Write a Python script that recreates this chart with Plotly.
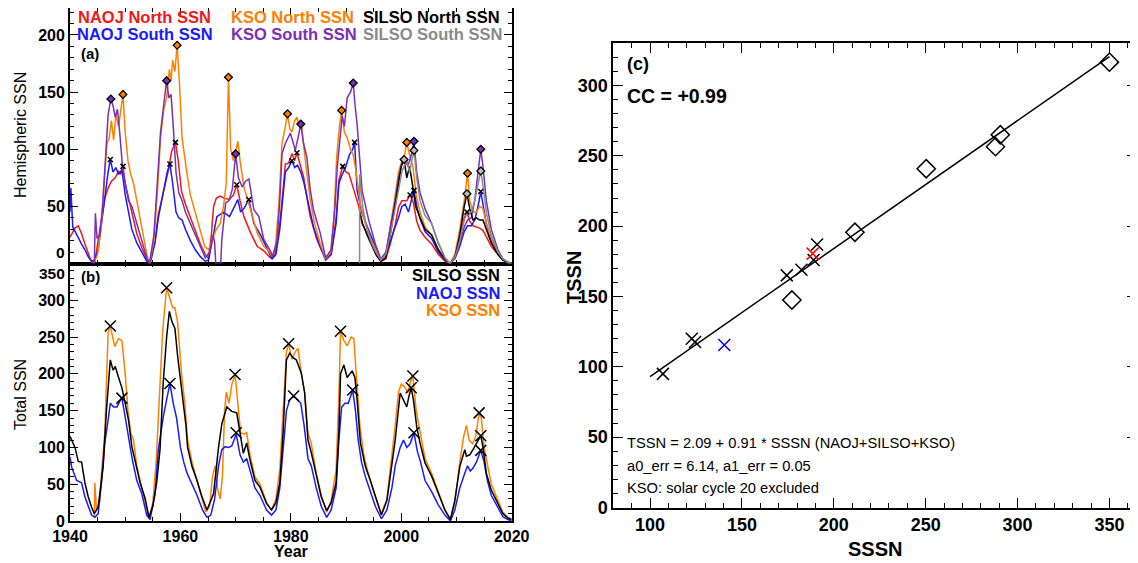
import plotly.graph_objects as go

# ---------------- Panel (a): hemispheric SSN ----------------
naoj_n_x = [1940.0,1940.9,1941.5,1942.1,1942.7,1943.3,1943.9,1944.5,1945.1,1945.7,1946.3,1946.9,1947.5,1948.2,1948.8,1949.2,1949.6,1950.0,1950.6,1951.2,1952.1,1953.0,1953.9,1954.5,1955.4,1956.0,1956.9,1957.8,1958.4,1959.1,1959.6,1960.2,1960.9,1961.8,1962.7,1963.6,1964.5,1965.1,1965.6,1966.0,1966.5,1967.2,1968.0,1968.9,1969.6,1970.2,1970.8,1971.5,1972.7,1973.9,1975.1,1976.3,1977.1,1978.0,1978.6,1979.0,1979.6,1980.2,1980.7,1981.1,1981.6,1982.3,1982.9,1983.5,1984.7,1985.5,1986.4,1987.3,1988.2,1988.7,1989.4,1990.0,1990.5,1991.4,1992.3,1992.9,1993.5,1994.7,1995.4,1996.3,1997.2,1998.0,1998.9,1999.5,2000.1,2001.0,2001.6,2002.2,2002.8,2003.4,2004.3,2005.5,2006.7,2007.9,2008.8,2009.7,2010.6,2011.4,2011.9,2012.4,2013.0,2013.6,2014.2,2014.8,2015.4,2016.3,2017.5,2018.4,2019.3,2020.0]
naoj_n_y = [23,31,33,26,17,8,1,2,20,40,57,66,72,75,81,78,85,70,57,43,26,14,4,1,20,43,63,81,98,106,90,63,52,40,29,17,8,4,25,50,57,59,57,56,60,69,55,41,27,15,11,5,7,35,65,87,88,96,90,97,88,76,58,41,21,12,4,8,40,73,85,80,79,64,50,35,29,18,8,2,4,17,34,49,55,55,60,53,37,29,23,17,8,2,0,5,23,40,45,37,33,32,31,29,23,15,8,4,0,0]

naoj_s_x = [1940.0,1940.15,1940.5,1941.2,1942.1,1942.7,1943.3,1943.9,1944.5,1945.1,1945.7,1946.3,1946.9,1947.3,1947.8,1948.3,1948.8,1949.4,1950.0,1950.6,1951.2,1952.1,1953.0,1953.9,1954.5,1955.4,1956.0,1956.9,1957.6,1958.1,1958.6,1959.2,1959.7,1960.3,1960.9,1961.8,1962.7,1963.6,1964.5,1965.1,1966.0,1966.6,1967.8,1968.9,1969.6,1970.4,1970.9,1971.5,1972.4,1973.3,1974.5,1976.0,1976.6,1977.3,1978.0,1978.6,1979.0,1979.6,1980.2,1980.7,1981.2,1981.8,1982.4,1983.2,1984.1,1985.3,1986.3,1987.3,1988.2,1988.7,1989.3,1989.9,1990.6,1991.2,1991.55,1992.0,1992.9,1994.1,1995.3,1996.3,1997.2,1998.0,1998.9,1999.5,2000.1,2000.7,2001.3,2001.8,2002.3,2002.9,2003.5,2004.3,2005.5,2006.7,2007.9,2008.8,2009.7,2010.6,2011.4,2012.0,2012.7,2013.3,2013.9,2014.4,2014.9,2015.4,2016.3,2017.5,2018.4,2019.3,2020.0]
naoj_s_y = [45,66,32,25,17,12,6,2,3,12,35,60,80,91,80,84,78,82,60,45,30,18,10,2,0,18,40,62,80,87,70,45,40,38,30,20,12,6,2,3,25,41,45,41,48,56,45,48,56,35,25,10,4,8,30,60,80,84,90,84,86,80,70,52,32,15,3,8,35,70,78,84,95,100,106,64,44,29,15,3,8,20,32,40,50,52,45,55,64,48,38,28,22,10,3,0,4,15,28,33,33,38,50,63,50,35,20,8,3,1,0]

kso_n_x = [1944.3,1945.0,1945.6,1946.2,1946.7,1947.1,1947.5,1947.9,1948.3,1948.8,1949.2,1949.6,1950.0,1950.5,1951.0,1951.5,1952.1,1953.0,1953.9,1954.4,1955.2,1955.8,1956.4,1957.0,1957.5,1958.0,1958.3,1958.6,1959.0,1959.4,1959.8,1960.3,1960.8,1961.3,1961.8,1962.7,1963.6,1964.4,1965.1,1965.8,1966.5,1967.2,1967.8,1968.3,1968.7,1969.1,1969.6,1970.0,1970.4,1970.8,1971.5,1972.7,1973.9,1975.1,1976.0,1976.6,1977.2,1977.8,1978.4,1979.0,1979.4,1979.8,1980.2,1980.7,1981.1,1981.5,1982.0,1982.5,1982.9,1983.5,1984.3,1985.3,1986.3,1987.2,1987.8,1988.3,1988.8,1989.2,1989.7,1990.2,1990.8,1991.3,1991.7,1992.6,1993.5,1994.4,1995.4,1996.3,1997.2,1998.0,1998.9,1999.5,2000.1,2000.6,2001.0,2001.5,2002.1,2002.7,2003.4,2004.3,2005.5,2006.7,2007.9,2008.8,2009.7,2010.6,2011.4,2012.0,2012.4,2013.0,2013.6,2014.2,2014.8,2015.4,2016.3,2017.5,2018.4,2019.3,2020.0]
kso_n_y = [0,8,30,70,105,110,125,108,130,120,135,148,115,90,78,70,55,30,8,0,20,60,110,135,145,170,160,178,168,191,160,110,90,75,60,45,30,15,12,22,30,35,50,70,163,100,90,97,107,90,67,47,27,15,11,6,15,50,105,120,131,118,115,125,128,120,118,95,78,56,35,18,4,10,40,93,120,134,115,110,100,95,84,52,35,22,12,3,6,30,60,80,90,95,106,95,85,60,45,32,25,12,4,0,8,30,55,79,55,45,45,50,48,35,22,10,4,1,0]

kso_s_x = [1944.4,1944.6,1944.9,1945.4,1945.9,1946.4,1946.9,1947.4,1947.8,1948.2,1948.6,1949.0,1949.5,1950.0,1950.6,1951.2,1952.1,1953.0,1953.9,1954.4,1955.2,1955.8,1956.4,1957.0,1957.5,1957.9,1958.3,1958.7,1959.2,1959.7,1960.3,1960.9,1961.8,1962.7,1963.6,1964.5,1965.3,1965.9,1966.2,1966.4,1967.3,1967.5,1968.2,1968.8,1969.4,1970.0,1970.5,1971.2,1971.8,1972.4,1973.3,1974.2,1975.1,1976.3,1976.7,1977.5,1978.0,1978.4,1979.0,1979.9,1980.3,1980.8,1981.3,1981.8,1982.3,1982.9,1983.5,1984.1,1985.3,1986.3,1987.3,1988.0,1988.4,1988.9,1989.3,1989.7,1990.2,1990.8,1991.3,1991.6,1992.0,1992.9,1994.1,1995.3,1996.3,1997.2,1998.0,1998.9,1999.5,2000.1,2000.6,2001.2,2001.8,2002.3,2002.8,2003.4,2004.3,2005.5,2006.7,2007.9,2008.8,2009.7,2010.6,2011.4,2012.0,2012.7,2013.3,2013.9,2014.4,2014.8,2015.4,2016.3,2017.5,2018.4,2019.3,2020.0]
kso_s_y = [0,44,22,25,50,90,130,144,138,128,135,115,85,70,55,50,35,20,5,0,25,70,115,140,160,145,148,120,80,62,55,45,35,25,15,5,10,25,18,0,0,21,53,55,65,96,75,67,72,74,47,41,21,11,6,20,55,96,105,114,108,99,110,122,105,93,65,47,27,5,12,50,84,110,129,120,145,150,158,140,122,64,38,17,4,10,30,55,75,88,92,85,95,107,80,62,48,35,18,5,0,5,18,32,38,40,55,80,100,85,55,30,12,4,1,0]

silso_n_x = [1992.45,1993.0,1993.8,1994.6,1995.4,1996.3,1997.2,1998.0,1998.9,1999.5,2000.0,2000.5,2001.0,2001.5,2002.0,2002.6,2003.4,2004.3,2005.5,2006.7,2007.9,2008.8,2009.7,2010.6,2011.4,2011.9,2012.4,2013.0,2013.6,2014.2,2014.8,2015.4,2016.3,2017.5,2018.4,2019.3,2020.0]
silso_n_y = [45,35,25,16,8,2,5,25,50,70,85,91,75,85,70,50,40,30,25,12,4,0,5,25,50,61,48,38,40,38,38,30,18,8,3,1,0]

silso_s_x = [1992.45,1992.47,1993.0,1993.8,1994.6,1995.4,1996.3,1997.2,1998.0,1998.9,1999.5,2000.1,2000.5,2001.0,2001.5,2002.3,2002.8,2003.4,2004.3,2005.5,2006.7,2007.9,2008.8,2009.7,2010.6,2011.4,2012.0,2012.7,2013.3,2013.9,2014.4,2014.9,2015.4,2016.3,2017.5,2018.4,2019.3,2020.0]
silso_s_y = [0,78,50,30,18,10,3,8,25,50,65,80,85,90,80,99,75,55,42,35,18,5,0,5,20,38,45,45,55,70,81,65,45,25,10,4,1,0]

# peak markers, panel (a)
kso_peak_x = [1947.4,1949.6,1957.5,1959.4,1968.7,1970.0,1979.4,1981.8,1989.2,1991.3,2001.0,2002.3,2012.0,2014.4]
kso_peak_y = [144,148,160,191,163,96,131,122,134,158,106,107,79,100]
kso_peak_c = ["#7a2fb5","#ff8000","#7a2fb5","#ff8000","#ff8000","#7a2fb5","#ff8000","#7a2fb5","#ff8000","#7a2fb5","#ff8000","#7a2fb5","#ff8000","#7a2fb5"]
silso_peak_x = [2000.5,2002.3,2011.9,2014.4]
silso_peak_y = [91,99,61,81]
naoj_peak_x = [1947.3,1949.6,1958.1,1959.1,1970.2,1972.4,1980.2,1981.1,1989.4,1991.55,2001.6,2002.3,2011.9,2014.4]
naoj_peak_y = [91,85,87,106,69,56,90,97,85,106,60,64,45,63]

# ---------------- Panel (b): total SSN ----------------
silso_t_x = [1940.0,1940.9,1941.5,1942.1,1942.7,1943.3,1943.9,1944.4,1945.1,1946.0,1946.6,1947.3,1947.8,1948.2,1948.8,1949.4,1950.0,1950.6,1951.2,1952.1,1952.7,1953.6,1954.3,1955.0,1955.7,1956.3,1956.9,1957.5,1958.0,1958.5,1959.0,1959.5,1960.4,1961.0,1961.3,1962.1,1963.0,1963.9,1964.8,1966.0,1966.9,1967.5,1968.4,1969.3,1970.2,1970.8,1971.4,1972.0,1972.6,1973.5,1974.4,1975.6,1976.5,1977.3,1978.0,1978.6,1979.2,1979.8,1980.4,1981.0,1981.9,1982.5,1983.1,1983.7,1984.6,1985.5,1986.5,1987.3,1988.2,1988.7,1989.0,1989.6,1990.2,1991.1,1991.6,1992.0,1992.6,1993.5,1994.4,1995.3,1996.4,1997.4,1998.3,1998.9,1999.8,2000.4,2001.0,2001.4,2001.8,2002.2,2002.8,2003.4,2004.3,2005.5,2006.7,2007.9,2008.9,2009.7,2010.6,2011.5,2011.8,2012.4,2013.0,2013.9,2014.4,2014.8,2015.4,2016.3,2017.5,2018.4,2019.3,2020.0]
silso_t_y = [115,100,81,80,52,33,19,10,19,74,150,219,205,210,195,181,160,137,101,74,52,31,5,20,52,97,190,250,285,270,262,224,165,130,100,74,55,33,15,37,100,132,155,149,147,120,92,106,83,55,46,24,15,25,52,120,219,228,222,219,201,174,110,93,61,33,14,25,52,120,200,212,195,204,195,165,106,74,55,33,8,28,74,110,174,165,155,170,181,165,128,106,79,61,37,15,2,28,74,97,88,90,97,110,116,100,65,42,24,10,4,2]

naoj_t_x = [1940.0,1940.3,1941.2,1942.1,1942.7,1943.3,1943.9,1944.5,1945.1,1945.7,1946.3,1946.9,1947.3,1947.9,1948.5,1949.1,1949.4,1949.8,1950.3,1950.8,1951.3,1952.1,1953.0,1953.9,1954.5,1955.4,1956.0,1956.9,1957.5,1958.1,1958.7,1959.3,1960.0,1960.6,1961.2,1962.1,1963.0,1964.0,1964.8,1965.5,1966.2,1966.9,1967.5,1968.1,1968.7,1969.3,1970.1,1970.8,1971.4,1972.0,1972.6,1973.5,1974.4,1975.6,1976.5,1977.3,1978.0,1978.6,1979.2,1979.8,1980.5,1981.2,1981.8,1982.4,1983.1,1983.7,1984.6,1985.5,1986.5,1987.3,1988.2,1988.7,1989.2,1989.8,1990.4,1991.2,1991.7,1992.2,1992.8,1993.5,1994.4,1995.3,1996.4,1997.4,1998.3,1998.9,1999.8,2000.4,2001.0,2001.6,2002.3,2002.9,2003.5,2004.3,2005.5,2006.7,2007.9,2008.9,2009.7,2010.6,2011.5,2012.0,2012.5,2013.0,2013.6,2014.4,2015.0,2015.6,2016.3,2017.5,2018.4,2019.3,2020.0]
naoj_t_y = [87,73,55,52,33,19,8,5,10,52,106,137,160,155,155,164,167,150,130,105,83,55,37,8,2,37,97,142,165,187,160,140,100,80,65,50,35,15,5,8,30,75,97,101,100,102,118,90,80,85,70,45,35,15,8,15,45,100,150,165,170,165,160,130,85,75,45,20,5,15,45,110,155,160,160,178,150,110,80,60,40,20,3,15,45,75,100,110,100,105,120,95,80,55,40,22,8,0,15,45,65,75,68,72,80,96,80,55,35,18,6,2,0]

kso_t_x = [1944.4,1944.5,1944.8,1945.4,1945.7,1946.3,1946.9,1947.3,1948.1,1948.8,1949.4,1950.0,1950.5,1951.0,1951.5,1952.1,1953.0,1953.8,1954.3,1955.0,1955.6,1956.2,1956.8,1957.5,1958.0,1958.6,1959.0,1959.5,1960.2,1960.8,1961.3,1962.1,1963.0,1963.9,1964.6,1965.3,1965.8,1966.3,1966.7,1967.2,1967.6,1968.0,1968.3,1968.8,1969.3,1969.9,1970.5,1970.9,1971.5,1972.0,1972.6,1973.5,1974.4,1975.6,1976.5,1977.3,1978.0,1978.6,1979.2,1979.6,1980.2,1980.8,1981.3,1981.9,1982.5,1983.1,1983.7,1984.6,1985.5,1986.5,1987.3,1988.2,1988.7,1989.0,1989.6,1990.2,1990.9,1991.4,1991.9,1992.5,1993.2,1994.0,1995.0,1996.4,1997.4,1998.3,1998.9,1999.5,2000.0,2000.6,2001.2,2001.7,2002.1,2002.7,2003.4,2004.3,2005.5,2006.7,2007.9,2008.9,2009.7,2010.6,2011.3,2011.8,2012.3,2012.9,2013.5,2014.1,2014.5,2015.0,2015.6,2016.3,2017.5,2018.4,2019.3,2020.0]
kso_t_y = [5,52,15,28,65,120,256,265,237,248,245,200,150,120,110,75,45,20,3,25,80,170,260,317,305,290,290,270,200,160,110,80,55,30,12,20,60,75,45,30,60,150,175,160,185,199,150,120,118,120,90,60,50,25,15,30,70,150,230,241,220,230,235,200,175,120,105,65,35,12,28,70,170,258,245,238,250,248,200,130,90,65,40,10,30,85,130,175,186,182,175,190,197,150,120,85,65,40,15,2,25,80,115,130,110,105,115,147,140,100,75,50,28,12,5,2]

# peak markers, panel (b)
peak_b_x = [1947.3,1949.4,1957.5,1958.1,1969.9,1970.1,1979.6,1980.5,1989.0,1991.2,2001.8,2002.1,2002.3,2014.1,2014.4,2014.4]
peak_b_y = [265,167,317,187,199,120,241,170,258,178,181,197,120,147,116,96]

# ---------------- Panel (c): scatter ----------------
cross_x = [107,122.7,124.5,174.4,182.4,189,190.9]
cross_y = [95,120,117.6,165,169,176,187]
red_cross_x = [188.5]
red_cross_y = [180.5]
blue_cross_x = [140.4]
blue_cross_y = [115.5]
diam_x = [177.2,211.5,250.3,288,290.6,350]
diam_y = [147.5,195.7,240.8,256.5,265,316.6]
fit_a0, fit_a1 = 2.09, 0.91
fit_x = [100, 350]

# tick labels
a_ticks = [50, 100, 150, 200]
b_ticks = [0, 50, 100, 150, 200, 250, 300]
year_ticks = [1940, 1960, 1980, 2000, 2020]

# the page body has an 8 px margin: the figure starts at (8, 8) in the window
OX, OY = 8, 8
W, H = 1130, 555
def px(x):
    return (x - OX) / W
def py(y):
    return min(1.0, 1 - (y - OY) / H)

FONT = "Liberation Sans, Arial, Helvetica, sans-serif"
ORANGE = "#ff8000"
RED = "#f01818"
BLUE = "#1a1aff"
PURPLE = "#7a2fb5"
GRAY = "#8a8a8a"
LW = 1.5

fig = go.Figure()

def line(x, y, color, xa, ya):
    fig.add_trace(go.Scatter(x=x, y=y, mode="lines", line=dict(color=color, width=LW),
                             xaxis=xa, yaxis=ya, showlegend=False, hoverinfo="skip"))

# panel (a)
line(naoj_n_x, naoj_n_y, RED, "x2", "y2")
line(naoj_s_x, naoj_s_y, BLUE, "x2", "y2")
line(kso_n_x, kso_n_y, ORANGE, "x2", "y2")
line(kso_s_x, kso_s_y, PURPLE, "x2", "y2")
line(silso_n_x, silso_n_y, "black", "x2", "y2")
line(silso_s_x, silso_s_y, GRAY, "x2", "y2")
fig.add_trace(go.Scatter(x=kso_peak_x, y=kso_peak_y, mode="markers", xaxis="x2", yaxis="y2",
                         marker=dict(symbol="diamond", size=6, color=kso_peak_c, line=dict(color="black", width=1.3)),
                         showlegend=False, hoverinfo="skip"))
fig.add_trace(go.Scatter(x=silso_peak_x, y=silso_peak_y, mode="markers", xaxis="x2", yaxis="y2",
                         marker=dict(symbol="diamond", size=6, color="#bbbbbb", line=dict(color="black", width=1.3)),
                         showlegend=False, hoverinfo="skip"))
fig.add_trace(go.Scatter(x=naoj_peak_x, y=naoj_peak_y, mode="markers", xaxis="x2", yaxis="y2",
                         marker=dict(symbol="x-thin-open", size=5, color="black", line=dict(color="black", width=1.5)),
                         showlegend=False, hoverinfo="skip"))

# panel (b)
line(kso_t_x, kso_t_y, ORANGE, "x", "y")
line(naoj_t_x, naoj_t_y, BLUE, "x", "y")
line(silso_t_x, silso_t_y, "black", "x", "y")
fig.add_trace(go.Scatter(x=peak_b_x, y=peak_b_y, mode="markers", xaxis="x", yaxis="y",
                         marker=dict(symbol="x-thin-open", size=11, color="black", line=dict(color="black", width=1.5)),
                         showlegend=False, hoverinfo="skip"))

# panel (c)
fig.add_trace(go.Scatter(x=fit_x, y=[fit_a0 + fit_a1 * v for v in fit_x], mode="lines",
                         line=dict(color="black", width=1.5), xaxis="x3", yaxis="y3",
                         showlegend=False, hoverinfo="skip"))
fig.add_trace(go.Scatter(x=diam_x, y=diam_y, mode="markers", xaxis="x3", yaxis="y3",
                         marker=dict(symbol="diamond-open", size=14, color="black", line=dict(color="black", width=1.5)),
                         showlegend=False, hoverinfo="skip"))
for xs, ys, col in [(cross_x, cross_y, "black"), (red_cross_x, red_cross_y, "red"), (blue_cross_x, blue_cross_y, "blue")]:
    fig.add_trace(go.Scatter(x=xs, y=ys, mode="markers", xaxis="x3", yaxis="y3",
                             marker=dict(symbol="x-thin-open", size=12, color=col, line=dict(color=col, width=1.5)),
                             showlegend=False, hoverinfo="skip"))

def axis(domain, rng, dtick, minor, ticklen, minorlen, showlabels=True, size=16, **kw):
    d = dict(domain=domain, range=rng, dtick=dtick, tick0=0, ticks="inside", ticklen=ticklen,
             tickwidth=1.3, tickcolor="black", showline=True, linecolor="black", linewidth=1.8,
             mirror="allticks", showgrid=False, zeroline=False, showticklabels=showlabels,
             automargin=False,
             tickfont=dict(family=FONT, size=size, color="black", weight="bold"),
             minor=dict(dtick=minor, ticks="inside", ticklen=minorlen, tickwidth=1.2, tickcolor="black", showgrid=False))
    d.update(kw)
    return d

ab_x = [px(70), px(511.7)]
fig.update_layout(
    width=W, height=H, margin=dict(l=0, r=0, t=0, b=0, pad=0, autoexpand=False), autosize=False,
    paper_bgcolor="white", plot_bgcolor="white",
    xaxis=axis(ab_x, [1940, 2020], 20, 5, 8, 4, anchor="y", tick0=1940,
               tickmode="array", tickvals=year_ticks, ticktext=[str(v) for v in year_ticks]),
    yaxis=axis([py(521), py(263.5)], [0, 350], 50, 10, 8, 4, anchor="x",
               tickmode="array", tickvals=b_ticks, ticktext=[str(v) for v in b_ticks]),
    xaxis2=axis(ab_x, [1940, 2020], 20, 5, 8, 4, showlabels=False, anchor="y2", matches="x", tick0=1940),
    yaxis2=axis([py(263.5), py(8)], [0, 223.6], 50, 10, 8, 4, anchor="x2",
                tickmode="array", tickvals=a_ticks, ticktext=[str(v) for v in a_ticks]),
    xaxis3=axis([px(613.3), px(1137)], [80, 365], 50, 10, 10, 5, size=18, anchor="y3"),
    yaxis3=axis([py(507.5), py(43.3)], [0, 330], 50, 10, 10, 5, size=18, anchor="x3"),
)

def txt(x, y, s, size, color="black", bold=True, xanchor="left", angle=0):
    fig.add_annotation(x=px(x), y=py(y), xref="paper", yref="paper", text=s, showarrow=False,
                       xanchor=xanchor, yanchor="middle", textangle=angle, borderpad=0,
                       font=dict(family=FONT, size=size, color=color, weight="bold" if bold else "normal"))

# the "0" of (a) and "350" of (b) sit either side of the shared border
txt(66, 253, "0", 15.5, xanchor="right")
txt(66, 273, "350", 15.5, xanchor="right")

# legend texts panel (a)
txt(77, 17, "NAOJ North SSN", 16.5, RED)
txt(230, 17, "KSO North SSN", 16.5, ORANGE)
txt(362, 17, "SILSO North SSN", 16.5, "black")
txt(76, 34, "NAOJ South SSN", 16.5, BLUE)
txt(230, 34, "KSO South SSN", 16.5, PURPLE)
txt(362, 34, "SILSO South SSN", 16.5, GRAY)
txt(80, 53, "(a)", 15)
txt(80, 277, "(b)", 15)
txt(501, 275, "SILSO SSN", 16.5, "black", xanchor="right")
txt(501, 293, "NAOJ SSN", 16.5, BLUE, xanchor="right")
txt(501, 310, "KSO SSN", 16.5, ORANGE, xanchor="right")
txt(20, 135, "Hemispheric SSN", 16, bold=False, xanchor="center", angle=-90)
txt(20, 395, "Total SSN", 16, bold=False, xanchor="center", angle=-90)
txt(291, 551, "Year", 16, xanchor="center")

# panel (c) texts
txt(626, 64, "(c)", 18)
txt(626, 96, "CC = +0.99", 19.5)
txt(626, 443, "TSSN = 2.09 + 0.91 * SSSN (NAOJ+SILSO+KSO)", 14.7, bold=False)
txt(626, 466, "a0_err = 6.14, a1_err = 0.05", 14.7, bold=False)
txt(626, 488, "KSO: solar cycle 20 excluded", 14.7, bold=False)
txt(574, 278, "TSSN", 20, xanchor="center", angle=-90)
txt(875, 549, "SSSN", 20, xanchor="center")

fig.write_html("out.html")
